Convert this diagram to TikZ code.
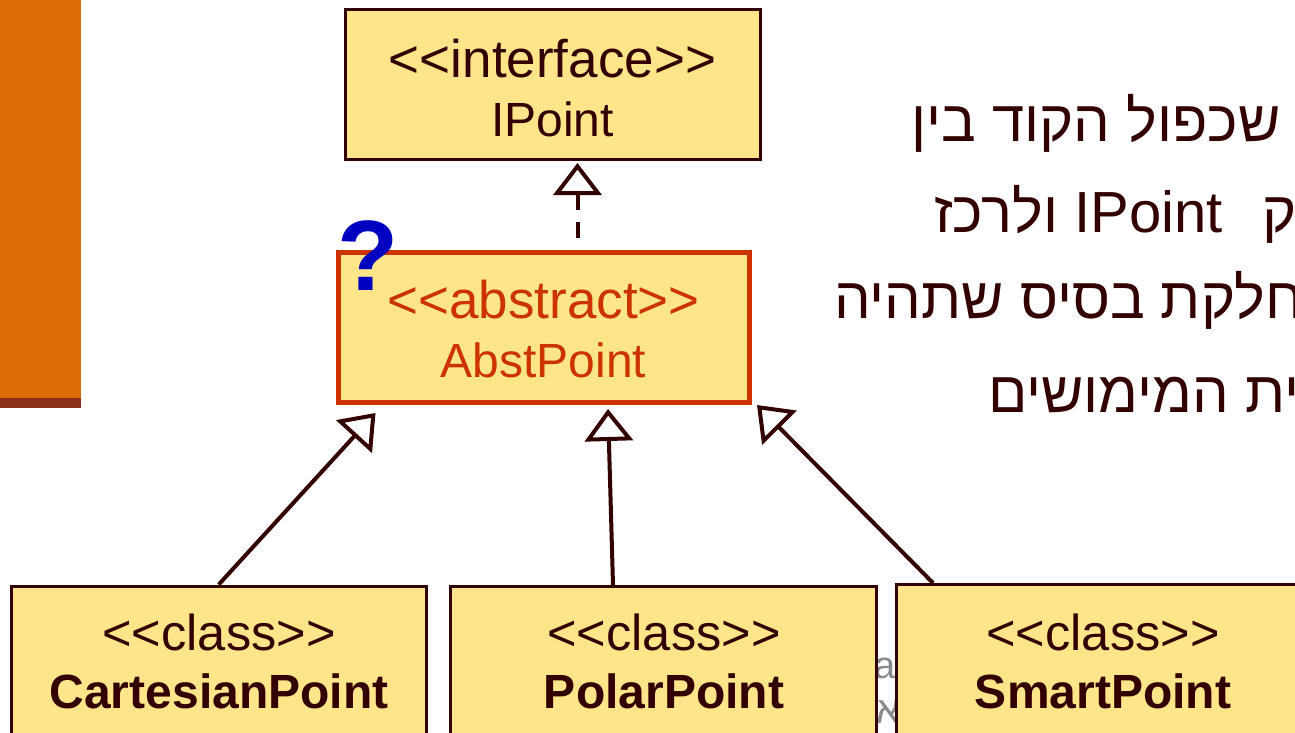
\documentclass[tikz,border=0pt]{standalone}
\usepackage{fontspec}
\setmainfont{Liberation Sans}
\newfontfamily\hebfont[Script=Hebrew]{Liberation Sans}
\TeXXeTstate=1
\usetikzlibrary{arrows.meta}
\definecolor{dbrown}{HTML}{330000}
\definecolor{abstc}{HTML}{CC3300}
\definecolor{boxfill}{HTML}{FEE58A}
\definecolor{barorange}{HTML}{DD6B08}
\definecolor{barstripe}{HTML}{8B3016}
\definecolor{qblue}{HTML}{0000C0}
\definecolor{footgrey}{HTML}{8A8A8A}
\begin{document}
\begin{tikzpicture}[x=1pt,y=-1pt,
  umlbox/.style={draw=dbrown, line width=3pt, fill=boxfill, rectangle, inner sep=0pt},
  lbl/.style={inner sep=0pt, anchor=base, text=dbrown, font=\fontsize{50.5}{60}\selectfont},
  toplbl/.style={lbl, font=\fontsize{53}{60}\selectfont},
  topname/.style={lbl, font=\fontsize{48}{56}\selectfont},
  namelbl/.style={lbl, font=\fontsize{48}{56}\selectfont\bfseries},
  heb/.style={inner sep=0pt, anchor=base west, text=dbrown, font=\hebfont\fontsize{58}{64}\selectfont},
  foot/.style={inner sep=0pt, text=footgrey, font=\fontsize{38}{44}\selectfont},
  gen/.style={draw=dbrown, line width=4pt, -{Triangle[open, length=32pt, width=48pt, line width=4pt]}},
  real/.style={draw=dbrown, line width=4pt, dash pattern=on 16pt off 12pt, {Triangle[open, length=32pt, width=48pt, line width=4pt]}-},
]
\useasboundingbox (0,0) rectangle (1295,733);
% side bar
\fill[barorange] (0,0) rectangle (81,398);
\fill[barstripe] (0,398) rectangle (81,408);
% hebrew text (clipped at the right edge, as in the slide)
\node[heb] (h1) at (911,142) {\beginR למנוע שכפול הקוד בין\endR};
\node[heb] (h2) at (934,232) {\beginR ממשק\hspace{24pt} \beginL IPoint\endL{} ולרכז\endR};
\node[heb] (h3) at (834,318) {\beginR במחלקת בסיס שתהיה\endR};
\node[heb] (h4) at (988,412) {\beginR תשתית המימושים\endR};
% footer remnants
\node[foot, anchor=base east] (f1) at (896,678) {va};
\node[foot, anchor=base west, font=\hebfont\fontsize{38}{44}\selectfont] (f2) at (876,723) {א};
% boxes
\node[umlbox, minimum width=415pt, minimum height=149pt] (ipoint) at (552.5,84.5) {};
\node[umlbox, draw=abstc, line width=5.5pt, minimum width=411pt, minimum height=150pt] (abst) at (544,327.5) {};
\node[umlbox, minimum width=414.5pt, minimum height=174pt] (cart) at (218.75,673) {};
\node[umlbox, minimum width=425.5pt, minimum height=174pt] (polar) at (663.25,673) {};
\node[umlbox, minimum width=414pt, minimum height=174pt] (smart) at (1103,671.5) {};
% texts
\node[toplbl] (t1) at (552.5,78) {<{}<interface>{}>};
\node[topname] (t2) at (552.5,136) {IPoint};
\node[toplbl, text=abstc] (t3) at (543.5,318) {<{}<abstract>{}>};
\node[topname, text=abstc] (t4) at (543.5,377) {AbstPoint};
\node[lbl] (t5) at (219,650) {<{}<class>{}>};
\node[namelbl] (t6) at (219,708) {CartesianPoint};
\node[lbl] (t7) at (664,650) {<{}<class>{}>};
\node[namelbl] (t8) at (664,708) {PolarPoint};
\node[lbl] (t9) at (1103,650) {<{}<class>{}>};
\node[namelbl] (t10) at (1103,708) {SmartPoint};
% connectors
\coordinate (tipI) at (577.5,163);
\coordinate (tipC) at (375.5,413);
\coordinate (tipP) at (608,409);
\coordinate (tipS) at (757,405);
\coordinate (sP) at (613,585);
\coordinate (sS) at (933,583);
\draw[real] (tipI) -- (abst.north -| tipI);
\draw[gen] (cart.north) -- (tipC);
\draw[gen] (sP) -- (tipP);
\draw[gen] (sS) -- (tipS);
% question mark
\node[inner sep=0pt, anchor=base, text=qblue, font=\fontsize{100}{110}\selectfont\bfseries] (q) at (368,290) {?};
\end{tikzpicture}
\end{document}
